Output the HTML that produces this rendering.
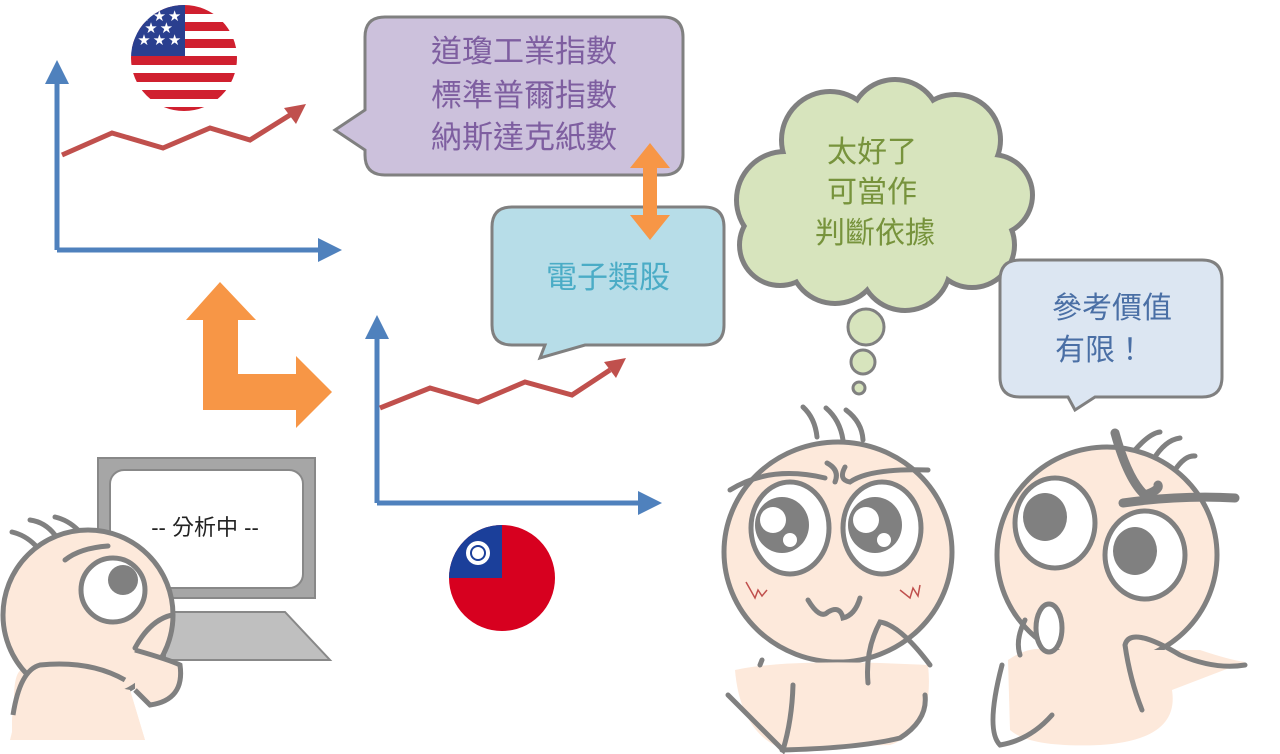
<!DOCTYPE html>
<html><head><meta charset="utf-8"><style>
html,body{margin:0;padding:0;background:#fff;width:1280px;height:754px;overflow:hidden}
text{font-family:"Liberation Sans","Noto Sans CJK TC",sans-serif}
</style></head><body>
<svg width="1280" height="754" viewBox="0 0 1280 754" xmlns="http://www.w3.org/2000/svg">
<defs>
<clipPath id="us"><circle cx="184" cy="58" r="53"/></clipPath>
<clipPath id="tw"><circle cx="502" cy="578" r="53"/></clipPath>
</defs>
<g clip-path="url(#us)">
<rect x="120" y="0" width="130" height="120" fill="#fff"/>
<g fill="#d0202f">
<rect x="120" y="5" width="130" height="9"/><rect x="120" y="22" width="130" height="9"/><rect x="120" y="39" width="130" height="9"/><rect x="120" y="56" width="130" height="9"/><rect x="120" y="73" width="130" height="9"/><rect x="120" y="90" width="130" height="9"/><rect x="120" y="107" width="130" height="9"/>
</g>
<rect x="120" y="0" width="65" height="56" fill="#2a3f8f"/>
<g fill="#fff" font-size="12"><text x="138" y="20">★ ★ ★</text><text x="145" y="32">★ ★</text><text x="138" y="44">★ ★ ★</text></g>
</g>
<g stroke="#4f81bd" stroke-width="5" fill="none"><path d="M57 250 V80"/><path d="M57 250 H320"/></g>
<polygon points="57,60 45,84 69,84" fill="#4f81bd"/><polygon points="342,250 318,238 318,262" fill="#4f81bd"/>
<polyline points="62,155 112,133 163,148 210,128 250,140 290,115" stroke="#c0504d" stroke-width="5" fill="none"/>
<polygon points="306,104 284,108 296,124" fill="#c0504d"/>
<g stroke="#4f81bd" stroke-width="5" fill="none"><path d="M377 503 V335"/><path d="M377 503 H640"/></g>
<polygon points="377,315 365,339 389,339" fill="#4f81bd"/><polygon points="662,503 638,491 638,515" fill="#4f81bd"/>
<polyline points="380,408 430,388 478,402 525,382 572,395 610,370" stroke="#c0504d" stroke-width="5" fill="none"/>
<polygon points="626,358 604,362 616,378" fill="#c0504d"/>
<polygon points="220,282 186,320 203,320 203,410 296,410 296,428 332,392 296,356 296,374 238,374 238,320 256,320" fill="#f79646"/>
<path d="M385 17 H663 Q683 17 683 37 V155 Q683 175 663 175 H385 Q365 175 365 155 V150 L335 130 L365 110 V37 Q365 17 385 17Z" fill="#ccc1dc" stroke="#808080" stroke-width="3"/>
<g fill="#7e5ea0" font-size="31" text-anchor="middle"><text x="524" y="62">道瓊工業指數</text><text x="524" y="106">標準普爾指數</text><text x="524" y="148">納斯達克紙數</text></g>
<path d="M512 207 H704 Q724 207 724 227 V325 Q724 345 704 345 H585 L540 358 L545 345 H512 Q492 345 492 325 V227 Q492 207 512 207Z" fill="#b7dde8" stroke="#808080" stroke-width="3"/>
<text x="608" y="288" fill="#4bacc6" font-size="31" text-anchor="middle">電子類股</text>
<polygon points="650,143 630,168 643,168 643,215 630,215 650,240 670,215 657,215 657,168 670,168" fill="#f79646"/>
<g stroke="#808080" stroke-width="6" fill="#d7e4bd">
<circle cx="785" cy="200" r="48"/><circle cx="830" cy="140" r="48"/><circle cx="895" cy="125" r="45"/><circle cx="955" cy="140" r="45"/><circle cx="992" cy="195" r="40"/><circle cx="972" cy="245" r="42"/><circle cx="905" cy="265" r="45"/><circle cx="835" cy="258" r="45"/><circle cx="780" cy="245" r="40"/>
</g>
<g fill="#d7e4bd">
<circle cx="785" cy="200" r="46"/><circle cx="830" cy="140" r="46"/><circle cx="895" cy="125" r="43"/><circle cx="955" cy="140" r="43"/><circle cx="992" cy="195" r="38"/><circle cx="972" cy="245" r="40"/><circle cx="905" cy="265" r="43"/><circle cx="835" cy="258" r="43"/><circle cx="780" cy="245" r="38"/><ellipse cx="885" cy="200" rx="100" ry="70"/>
</g>
<g fill="#77933c" font-size="30" text-anchor="middle"><text x="872" y="162">太好了</text><text x="872" y="202">可當作</text><text x="875" y="243">判斷依據</text></g>
<g fill="#d7e4bd" stroke="#808080" stroke-width="3"><circle cx="866" cy="327" r="18"/><circle cx="863" cy="362" r="12"/><circle cx="859" cy="388" r="6"/></g>
<path d="M1020 260 H1202 Q1222 260 1222 280 V377 Q1222 397 1202 397 H1095 L1075 410 L1068 397 H1020 Q1000 397 1000 377 V280 Q1000 260 1020 260Z" fill="#dce6f2" stroke="#808080" stroke-width="3"/>
<g fill="#4a6fa5" font-size="30" text-anchor="middle"><text x="1112" y="318">參考價值</text><text x="1100" y="360">有限！</text></g>
<g clip-path="url(#tw)"><rect x="440" y="520" width="130" height="120" fill="#d7001f"/><rect x="440" y="520" width="62" height="58" fill="#1b3f9a"/><circle cx="478" cy="553" r="12" fill="#fff"/><circle cx="478" cy="553" r="8" fill="#1b3f9a"/><circle cx="478" cy="553" r="6" fill="#fff"/></g>
<rect x="98" y="458" width="217" height="140" fill="#a6a6a6" stroke="#888" stroke-width="2"/>
<rect x="110" y="470" width="193" height="118" rx="14" fill="#fff" stroke="#888" stroke-width="2"/>
<text x="205" y="535" font-size="22" text-anchor="middle" fill="#222">-- 分析中 --</text>
<polygon points="165,612 285,612 330,660 165,660" fill="#bfbfbf" stroke="#888" stroke-width="2"/>
<g stroke="#808080" stroke-width="5" fill="none" stroke-linecap="round">
<path d="M12 532 Q25 535 35 545"/><path d="M30 520 Q45 522 55 535"/><path d="M55 517 Q68 520 78 530"/>
</g>
<path d="M15 720 Q10 660 30 670 L130 690 L145 740 L10 740Z" fill="#fde9db"/>
<circle cx="88" cy="615" r="85" fill="#fde9db" stroke="#808080" stroke-width="5"/>
<path d="M12 720 Q14 680 30 670 L130 690 L145 740 L12 740Z" fill="#fde9db"/>
<path d="M13 715 Q20 670 40 665 Q90 660 125 680" fill="none" stroke="#808080" stroke-width="5"/>
<path d="M135 650 Q170 660 180 665 Q185 700 150 705 L135 690" fill="#fde9db" stroke="#808080" stroke-width="5"/>
<path d="M135 648 Q150 620 172 615" fill="none" stroke="#808080" stroke-width="5" stroke-linecap="round"/>
<path d="M65 560 Q80 548 108 546" fill="none" stroke="#808080" stroke-width="5" stroke-linecap="round"/>
<circle cx="113" cy="590" r="32" fill="#fff" stroke="#808080" stroke-width="5"/>
<circle cx="123" cy="580" r="15" fill="#808080"/>
<g stroke="#808080" stroke-width="5" fill="none" stroke-linecap="round"><path d="M803 407 Q815 418 817 437"/><path d="M826 408 Q840 420 843 440"/><path d="M846 410 Q862 422 863 440"/></g>
<ellipse cx="838" cy="552" rx="114" ry="110" fill="#fde9db" stroke="#808080" stroke-width="5"/>
<path d="M735 670 Q790 658 928 665 Q935 730 890 745 L780 748 Q740 730 735 670Z" fill="#fde9db"/>
<g stroke="#808080" stroke-width="5" fill="none" stroke-linecap="round">
<path d="M730 490 Q770 465 825 478 M827 463 Q840 470 835 482"/><path d="M845 467 Q838 480 850 482 Q870 468 928 470"/>
<path d="M728 695 L783 750 Q792 720 793 685"/><path d="M782 750 Q860 748 900 738 Q928 720 925 695"/>
<path d="M868 683 Q865 650 880 622 Q900 625 930 665"/>
<path d="M808 600 Q820 620 828 612 Q840 605 843 618 Q855 615 860 598"/>
<path d="M762 660 L760 665"/>
</g>
<g fill="#fff" stroke="#808080" stroke-width="5"><ellipse cx="790" cy="528" rx="39" ry="46"/><ellipse cx="882" cy="528" rx="39" ry="46"/></g>
<g fill="#808080"><ellipse cx="782" cy="525" rx="27" ry="28"/><ellipse cx="875" cy="525" rx="27" ry="28"/></g>
<g fill="#fff"><circle cx="773" cy="520" r="13"/><circle cx="790" cy="540" r="7"/><circle cx="866" cy="520" r="13"/><circle cx="884" cy="540" r="7"/></g>
<g stroke="#c0504d" stroke-width="1.5" fill="none"><path d="M746 582 L755 598 L758 590 L762 596 L767 590"/><path d="M900 590 L910 598 L913 588 L918 596 L920 585"/></g>
<g stroke="#808080" stroke-width="5" fill="none" stroke-linecap="round"><path d="M1135 450 Q1150 433 1160 432"/><path d="M1153 460 Q1165 440 1180 438"/><path d="M1175 470 Q1185 455 1195 456"/></g>
<ellipse cx="1107" cy="555" rx="110" ry="108" fill="#fde9db" stroke="#808080" stroke-width="5"/>
<path d="M1008 660 Q1030 645 1050 650 L1200 650 Q1230 660 1245 662 L1172 690 Q1180 740 1100 745 Q1030 748 1010 730Z" fill="#fde9db"/>
<g stroke="#808080" stroke-width="5" fill="none" stroke-linecap="round">
<path d="M1002 665 Q985 730 1000 745 Q1030 740 1052 715"/><path d="M1142 710 Q1130 680 1125 645 Q1130 625 1180 655 Q1215 670 1245 665"/>
<path d="M1025 620 Q1015 640 1020 655"/>
</g>
<g stroke="#808080" stroke-width="9" fill="none" stroke-linecap="round"><path d="M1115 433 Q1128 480 1145 495 Q1160 490 1158 485"/><path d="M1123 503 Q1180 495 1235 498"/></g>
<g fill="#fff" stroke="#808080" stroke-width="5"><ellipse cx="1055" cy="523" rx="40" ry="45"/><ellipse cx="1145" cy="555" rx="40" ry="44"/></g>
<g fill="#808080"><ellipse cx="1045" cy="517" rx="22" ry="24"/><ellipse cx="1135" cy="551" rx="22" ry="24"/></g>
<ellipse cx="1049" cy="628" rx="13" ry="24" fill="#fff" stroke="#808080" stroke-width="5"/>
</svg>
</body></html>
